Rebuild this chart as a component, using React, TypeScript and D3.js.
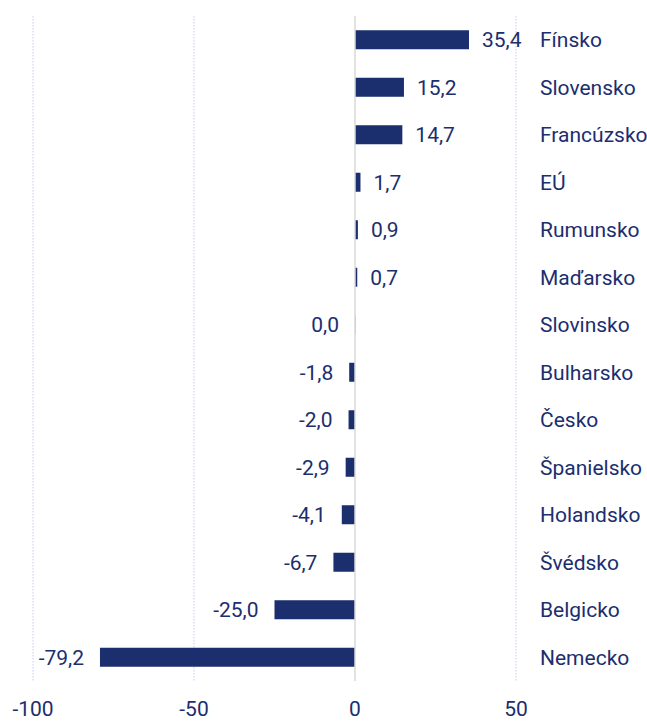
import React from "react";
import * as d3 from "d3";

const categories = ["Fínsko","Slovensko","Francúzsko","EÚ","Rumunsko","Maďarsko","Slovinsko","Bulharsko","Česko","Španielsko","Holandsko","Švédsko","Belgicko","Nemecko"];
const values = [35.4,15.2,14.7,1.7,0.9,0.7,0.0,-1.8,-2.0,-2.9,-4.1,-6.7,-25.0,-79.2];
const ticks = [-100,-50,0,50];

const W = 647, H = 721;
const NAVY = "#1b2e6e";
const FONT = "Roboto, 'Noto Sans', sans-serif";

export default function App() {
  const x = d3.scaleLinear().domain([-100, 50]).range([33, 516]);
  const y = d3.scaleBand<string>().domain(categories).range([16, 681]).paddingInner(0.6).paddingOuter(0.3);
  const fmt = (v: number) => v.toFixed(1).replace(".", ",");
  const x0 = x(0);
  return (
    <div style={{ position: "absolute", left: 0, top: 0 }}>
      <svg width={W} height={H} style={{ display: "block" }}>
        <rect width={W} height={H} fill="#fff" />
        {ticks.filter(t => t !== 0).map(t => (
          <line key={t} x1={x(t)} x2={x(t)} y1={16} y2={681} stroke="#c9cbf2" strokeWidth={1} strokeDasharray="1.5,1.5" />
        ))}
        {categories.map((c, i) => {
          const v = values[i];
          const bx = v >= 0 ? x0 : x(v);
          const bw = Math.max(Math.abs(x(v) - x0), 0.8);
          const cy = (y(c) as number) + y.bandwidth() / 2;
          return (
            <g key={c}>
              <rect x={bx} y={y(c)} width={bw} height={y.bandwidth()} fill={NAVY} opacity={v === 0 ? 0.4 : 1} />
              <text x={v > 0 ? x(v) + 13 : x(v) - 16} y={cy} dy="0.35em" textAnchor={v > 0 ? "start" : "end"}
                fontFamily={FONT} fontSize={21} fill={NAVY}>{fmt(v)}</text>
              <text x={540} y={cy} dy="0.35em" fontFamily={FONT} fontSize={21} fill={NAVY}>{c}</text>
            </g>
          );
        })}
        <line x1={x0} x2={x0} y1={16} y2={681} stroke="#d9d9d9" strokeWidth={1.5} />
        {ticks.map(t => (
          <text key={t} x={x(t)} y={716} textAnchor="middle" fontFamily={FONT} fontSize={21} fill={NAVY}>{t}</text>
        ))}
      </svg>
    </div>
  );
}
